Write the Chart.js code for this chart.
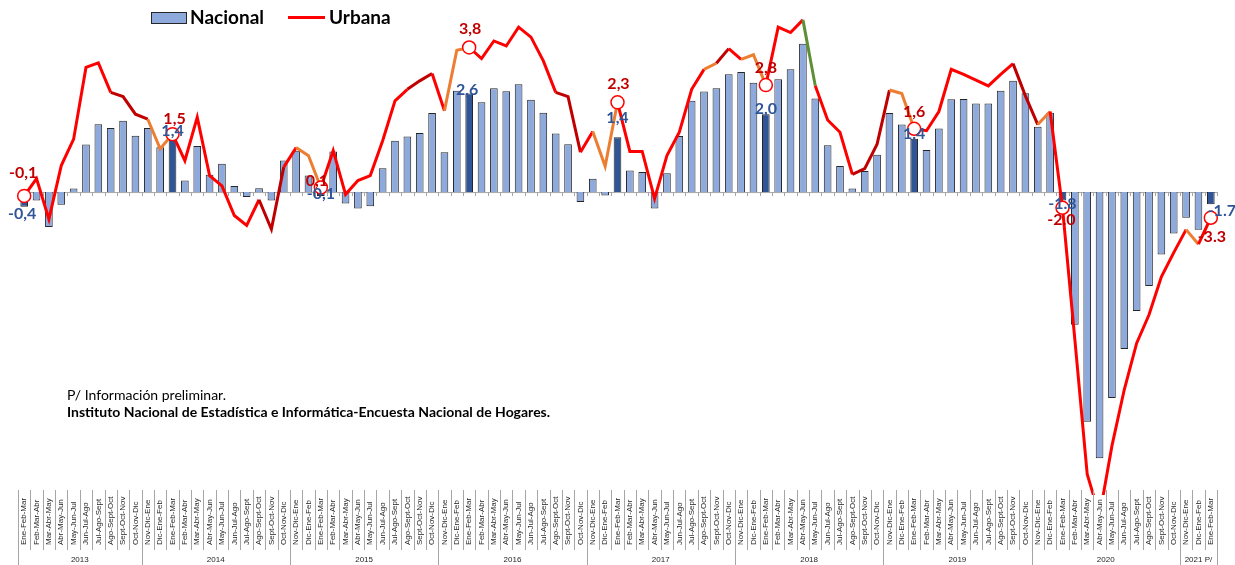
<!DOCTYPE html>
<html>
<head>
<meta charset="utf-8">
<script src="https://cdn.jsdelivr.net/npm/chart.js@4"></script>
<style>
  body { margin: 0; background: #fff; }
  #wrap { position: relative; width: 1235px; height: 565px; }
</style>
</head>
<body>
<div id="wrap"><canvas id="empleoChart"></canvas></div>
<script>
// rolling quarters, Ene-Feb-Mar 2013 .. Ene-Feb-Mar 2021
const periods = [
  "Ene-Feb-Mar", "Feb-Mar-Abr", "Mar-Abr-May", "Abr-May-Jun", "May-Jun-Jul", "Jun-Jul-Ago", "Jul-Ago-Sept", "Ago-Sept-Oct", "Sept-Oct-Nov", "Oct-Nov-Dic",
  "Nov-Dic-Ene", "Dic-Ene-Feb", "Ene-Feb-Mar", "Feb-Mar-Abr", "Mar-Abr-May", "Abr-May-Jun", "May-Jun-Jul", "Jun-Jul-Ago", "Jul-Ago-Sept", "Ago-Sept-Oct", "Sept-Oct-Nov", "Oct-Nov-Dic",
  "Nov-Dic-Ene", "Dic-Ene-Feb", "Ene-Feb-Mar", "Feb-Mar-Abr", "Mar-Abr-May", "Abr-May-Jun", "May-Jun-Jul", "Jun-Jul-Ago", "Jul-Ago-Sept", "Ago-Sept-Oct", "Sept-Oct-Nov", "Oct-Nov-Dic",
  "Nov-Dic-Ene", "Dic-Ene-Feb", "Ene-Feb-Mar", "Feb-Mar-Abr", "Mar-Abr-May", "Abr-May-Jun", "May-Jun-Jul", "Jun-Jul-Ago", "Jul-Ago-Sept", "Ago-Sept-Oct", "Sept-Oct-Nov", "Oct-Nov-Dic",
  "Nov-Dic-Ene", "Dic-Ene-Feb", "Ene-Feb-Mar", "Feb-Mar-Abr", "Mar-Abr-May", "Abr-May-Jun", "May-Jun-Jul", "Jun-Jul-Ago", "Jul-Ago-Sept", "Ago-Sept-Oct", "Sept-Oct-Nov", "Oct-Nov-Dic",
  "Nov-Dic-Ene", "Dic-Ene-Feb", "Ene-Feb-Mar", "Feb-Mar-Abr", "Mar-Abr-May", "Abr-May-Jun", "May-Jun-Jul", "Jun-Jul-Ago", "Jul-Ago-Sept", "Ago-Sept-Oct", "Sept-Oct-Nov", "Oct-Nov-Dic",
  "Nov-Dic-Ene", "Dic-Ene-Feb", "Ene-Feb-Mar", "Feb-Mar-Abr", "Mar-Abr-May", "Abr-May-Jun", "May-Jun-Jul", "Jun-Jul-Ago", "Jul-Ago-Sept", "Ago-Sept-Oct", "Sept-Oct-Nov", "Oct-Nov-Dic",
  "Nov-Dic-Ene", "Dic-Ene-Feb", "Ene-Feb-Mar", "Feb-Mar-Abr", "Mar-Abr-May", "Abr-May-Jun", "May-Jun-Jul", "Jun-Jul-Ago", "Jul-Ago-Sept", "Ago-Sept-Oct", "Sept-Oct-Nov", "Oct-Nov-Dic",
  "Nov-Dic-Ene", "Dic-Ene-Feb", "Ene-Feb-Mar"
];
const yearLabels = ["2013", "2014", "2015", "2016", "2017", "2018", "2019", "2020", "2021 P/"];
const yearSpans = [10, 12, 12, 12, 12, 12, 12, 12, 3];

const nacional = [
  -0.38, -0.22, -0.91, -0.33, 0.09, 1.24, 1.77, 1.67, 1.86, 1.47,
  1.67, 1.17, 1.36, 0.30, 1.20, 0.45, 0.74, 0.16, -0.13, 0.10, -0.22, 0.82,
  1.08, 0.43, -0.10, 1.06, -0.30, -0.43, -0.37, 0.62, 1.34, 1.45, 1.54, 2.06,
  1.04, 2.64, 2.57, 2.34, 2.71, 2.63, 2.81, 2.41, 2.07, 1.53, 1.25, -0.26,
  0.35, -0.09, 1.43, 0.56, 0.52, -0.43, 0.49, 1.46, 2.38, 2.62, 2.71, 3.07,
  3.13, 2.85, 2.03, 2.94, 3.20, 3.87, 2.44, 1.22, 0.68, 0.09, 0.55, 0.97,
  2.06, 1.76, 1.39, 1.10, 1.66, 2.42, 2.43, 2.31, 2.31, 2.64, 2.90, 2.58,
  1.70, 2.07, -0.22, -3.46, -5.99, -6.94, -5.37, -4.09, -3.10, -2.45, -1.63, -1.08,
  -0.67, -0.98, -0.32
];
const urbana = [
  -0.10, 0.35, -0.71, 0.69, 1.38, 3.25, 3.37, 2.60, 2.49, 2.03,
  1.90, 1.13, 1.51, 0.82, 1.95, 0.43, 0.16, -0.61, -0.87, -0.20, -0.97, 0.65,
  1.16, 0.95, 0.12, 1.08, -0.06, 0.30, 0.43, 1.34, 2.38, 2.68, 2.90, 3.09,
  2.12, 3.70, 3.77, 3.48, 3.94, 3.81, 4.30, 4.04, 3.42, 2.60, 2.49, 1.04,
  1.58, 0.67, 2.34, 1.06, 1.06, -0.17, 0.95, 1.56, 2.68, 3.20, 3.36, 3.74,
  3.46, 3.58, 2.79, 4.30, 4.16, 4.49, 2.77, 1.88, 1.56, 0.46, 0.61, 1.25,
  2.66, 2.57, 1.65, 1.60, 2.10, 3.20, 3.07, 2.92, 2.77, 3.07, 3.35, 2.51,
  1.76, 2.10, -0.41, -3.85, -7.36, -8.44, -6.62, -5.15, -3.94, -3.20, -2.21, -1.58,
  -0.98, -1.36, -0.67
];

// labelled points (Ene-Feb-Mar of each year)
const labelIdx = [0, 12, 24, 36, 48, 60, 72, 84, 96];
const nacionalText = ["-0,4", "1,4", "-0,1", "2,6", "1,4", "2,0", "1,4", "-1.8", "-1.7"];
const urbanaText = ["-0,1", "1,5", "0,1", "3,8", "2,3", "2,8", "1,6", "-2.0", "-3.3"];

// styling
const nacOffsets = [[-2, 7], [0, -9], [0, -2], [-2, -4], [0, -19], [0, -5], [0, -5], [0, 3], [11, 7]];
const urbOffsets = [[-1, -23], [2, -15], [-4, -7], [1, -19], [1, -18], [0, -17], [0, -17], [-1, 12], [1, 19]];
const RED = "#FF0000", DARKRED = "#C00000", ORANGE = "#ED7D31", GREEN = "#5E8F36";
const orangeSeg = [10, 11, 22, 23, 34, 35, 46, 47, 55, 58, 59, 70, 71, 82, 94];
const darkSeg = [7, 8, 9, 19, 20, 31, 32, 43, 44, 56, 67, 68, 69, 80, 81];
const greenSeg = [63];

function segColor(i) {
  if (greenSeg.includes(i)) return GREEN;
  if (orangeSeg.includes(i)) return ORANGE;
  if (darkSeg.includes(i)) return DARKRED;
  return RED;
}

const barColors = nacional.map((v, i) => labelIdx.includes(i) ? "#2F5597" : "#8EA9DB");
const pointSizes = urbana.map((v, i) => labelIdx.includes(i) ? 6.5 : 0);

const extras = {
  id: "extras",
  beforeDatasetsDraw(chart) {
    const { ctx, chartArea, scales } = chart;
    const y0 = scales.y.getPixelForValue(0);
    const w = (chartArea.right - chartArea.left) / periods.length;
    ctx.save();
    ctx.strokeStyle = "#A6A6A6";
    ctx.lineWidth = 1;
    ctx.beginPath();
    ctx.moveTo(chartArea.left, y0 + 0.5);
    ctx.lineTo(chartArea.right, y0 + 0.5);
    for (let k = 0; k <= periods.length; k++) {
      const x = Math.round(chartArea.left + k * w) + 0.5;
      ctx.moveTo(x, y0);
      ctx.lineTo(x, y0 + 4);
    }
    ctx.stroke();
    ctx.restore();
  },
  afterDraw(chart) {
    const { ctx, chartArea, scales } = chart;
    const xs = scales.x, ys = scales.y;
    const w = (chartArea.right - chartArea.left) / periods.length;
    ctx.save();

    // category labels, bottom aligned and rotated
    ctx.fillStyle = "#262626";
    ctx.font = "8px 'Liberation Sans'";
    ctx.textAlign = "left";
    ctx.textBaseline = "middle";
    periods.forEach((p, i) => {
      ctx.save();
      ctx.translate(xs.getPixelForValue(i), 545);
      ctx.rotate(-Math.PI / 2);
      ctx.fillText(p, 0, 0);
      ctx.restore();
    });

    // separators and year groups
    const yearStarts = [0];
    yearSpans.forEach(n => yearStarts.push(yearStarts[yearStarts.length - 1] + n));
    ctx.strokeStyle = "#A6A6A6";
    ctx.lineWidth = 1;
    ctx.beginPath();
    for (let k = 0; k <= periods.length; k++) {
      const x = Math.round(chartArea.left + k * w) + 0.5;
      ctx.moveTo(x, 490);
      ctx.lineTo(x, yearStarts.includes(k) ? 565 : 550);
    }
    ctx.stroke();
    ctx.font = "8px 'Liberation Sans'";
    ctx.textAlign = "center";
    yearLabels.forEach((lab, j) => {
      const mid = chartArea.left + (yearStarts[j] + yearSpans[j] / 2) * w;
      ctx.fillText(lab, mid, 560);
    });

    // data labels
    ctx.font = "bold 16px Lato";
    labelIdx.forEach((i, j) => {
      const x = xs.getPixelForValue(i);
      ctx.fillStyle = "#2F5597";
      ctx.fillText(nacionalText[j], x + nacOffsets[j][0], ys.getPixelForValue(nacional[i]) + nacOffsets[j][1]);
      ctx.fillStyle = DARKRED;
      ctx.fillText(urbanaText[j], x + urbOffsets[j][0], ys.getPixelForValue(urbana[i]) + urbOffsets[j][1]);
    });

    // legend
    ctx.fillStyle = "#8EA9DB";
    ctx.strokeStyle = "#262626";
    ctx.fillRect(151, 12, 35, 11);
    ctx.strokeRect(151.5, 12.5, 35, 11);
    ctx.strokeStyle = RED;
    ctx.lineWidth = 3;
    ctx.beginPath();
    ctx.moveTo(288, 17.5);
    ctx.lineTo(325, 17.5);
    ctx.stroke();
    ctx.fillStyle = "#000";
    ctx.font = "bold 19px Lato";
    ctx.textAlign = "left";
    ctx.fillText("Nacional", 190, 18);
    ctx.fillText("Urbana", 329, 18);

    // note
    ctx.textBaseline = "alphabetic";
    ctx.font = "14px Lato";
    ctx.fillText("P/ Información preliminar.", 67, 400);
    ctx.font = "bold 14px Lato";
    ctx.fillText("Instituto Nacional de Estadística e Informática-Encuesta Nacional de Hogares.", 67, 417);
    ctx.restore();
  }
};

new Chart(document.getElementById("empleoChart"), {
  type: "bar",
  data: {
    labels: periods,
    datasets: [
      {
        type: "line",
        label: "Urbana",
        data: urbana,
        order: 1,
        borderColor: RED,
        borderWidth: 3,
        tension: 0,
        pointRadius: pointSizes,
        pointBackgroundColor: "#FFFFFF",
        pointBorderColor: RED,
        pointBorderWidth: 1.5,
        segment: { borderColor: ctx => segColor(ctx.p0DataIndex) },
      },
      {
        label: "Nacional",
        data: nacional,
        order: 2,
        backgroundColor: barColors,
        borderColor: "#262626",
        borderWidth: 1,
        categoryPercentage: 1,
        barPercentage: 0.62,
      },
    ],
  },
  options: {
    responsive: true,
    maintainAspectRatio: false,
    animation: false,
    layout: { padding: { left: 18, right: 18, top: 6, bottom: 70 } },
    plugins: { legend: { display: false }, tooltip: { enabled: false } },
    scales: {
      x: { display: false },
      y: { display: false, min: -7.9, max: 4.8 },
    },
  },
  plugins: [extras],
});
</script>
</body>
</html>
